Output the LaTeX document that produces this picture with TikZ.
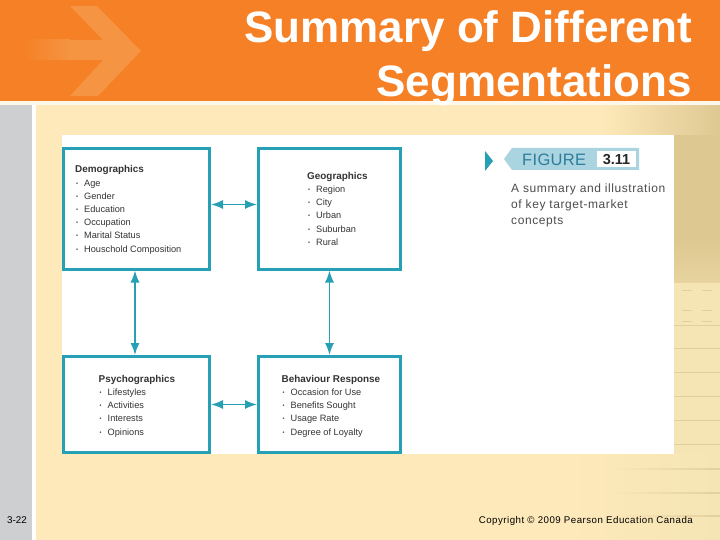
\documentclass[tikz,border=0pt]{standalone}
\usepackage{fontspec}
\setmainfont{Liberation Sans}
\usetikzlibrary{arrows.meta,positioning}
\definecolor{slideorange}{RGB}{245,128,37}
\definecolor{arrowtint}{RGB}{245,148,66}
\definecolor{slidecream}{RGB}{254,233,186}
\definecolor{slidegray}{RGB}{205,207,208}
\definecolor{sidetan}{RGB}{222,200,146}
\definecolor{stripetan}{RGB}{245,229,180}
\definecolor{stripeline}{RGB}{226,208,156}
\definecolor{boxteal}{RGB}{38,160,180}
\definecolor{figblue}{RGB}{170,212,224}
\definecolor{figtext}{RGB}{45,125,155}
\tikzstyle{segbox} = [draw=boxteal,line width=3pt,fill=white,inner sep=0pt]
\tikzstyle{seglink} = [boxteal,line width=1.5pt,{Latex[length=12pt,width=9pt]}-{Latex[length=12pt,width=9pt]}]
\tikzstyle{segtext} = [anchor=north west,align=left,inner sep=0pt,text=black!80,font=\fontsize{9.2}{13.2}\selectfont]
\newcommand{\seghead}[1]{{\fontsize{9.9}{13.2}\selectfont\bfseries #1}\\}
\newcommand{\segitem}[1]{\makebox[9pt][l]{\hspace{1pt}\raisebox{1pt}{\fontsize{5.5}{5}\selectfont\textbullet}}#1}

\begin{document}
\begin{tikzpicture}[x=1pt,y=-1pt]
\useasboundingbox (0,0) rectangle (720,540);

% Slide background
\fill[white] (0,0) rectangle (720,540);
\fill[slidegray] (0,105) rectangle (32,540);
\fill[slidecream] (36,105) rectangle (720,540);
\shade[left color=slidecream,right color=sidetan] (600,105) rectangle (720,135);
\fill[sidetan] (674,135) rectangle (720,283);
\shade[top color=sidetan,bottom color=sidetan!60!stripetan] (674,240) rectangle (720,283);
\fill[stripetan] (674,283) rectangle (720,454);
\shade[left color=slidecream,right color=stripetan] (560,454) rectangle (720,540);

% Stripes on the right
\foreach \y in {325,348,372,396,420,444}
  \draw[stripeline] (674,\y) -- (720,\y);
\foreach \y in {468,492,515}
  \shade[left color=slidecream,right color=stripeline] (600,\y) rectangle (720,\y+1);
\foreach \y in {290,310,321}
  \foreach \x in {682,702}
    \draw[stripeline] (\x,\y) -- (\x+10,\y);

% Title band
\fill[white!70!slidecream] (0,100) rectangle (720,105);
\fill[slideorange] (0,0) rectangle (720,101);
\shade[left color=slideorange,right color=arrowtint] (22,40) rectangle (70,60);
\fill[arrowtint] (70,40) -- (103,40) -- (70,6) -- (97,6) -- (141,51) -- (98,96)
  -- (70,96) -- (103,60) -- (70,60) -- cycle;
\node[white,anchor=north east,align=right,inner sep=0pt,font=\fontsize{44}{54}\selectfont\bfseries]
  (title) at (692,10) {Summary of Different\\Segmentations};

% White figure
\fill[white] (62,135) rectangle (674,454);

% Boxes
\node[segbox,minimum width=146pt,minimum height=120pt] (demo) at (136.5,209) {};
\node[segbox,minimum width=142pt,minimum height=120pt] (geo) at (329.5,209) {};
\node[segbox,minimum width=146pt,minimum height=96pt] (psycho) at (136.5,404.5) {};
\node[segbox,minimum width=142pt,minimum height=96pt] (behav) at (329.5,404.5) {};

% Box texts
\node[segtext] (demotext) at (75,165.5) {\seghead{Demographics}
  \segitem{Age}\\\segitem{Gender}\\\segitem{Education}\\\segitem{Occupation}\\
  \segitem{Marital Status}\\\segitem{Houschold Composition}};
\node[segtext] (geotext) at (307,172) {\seghead{Geographics}
  \segitem{Region}\\\segitem{City}\\\segitem{Urban}\\\segitem{Suburban}\\\segitem{Rural}};
\node[segtext] (psychotext) at (98.5,375) {\seghead{Psychographics}
  \segitem{Lifestyles}\\\segitem{Activities}\\\segitem{Interests}\\\segitem{Opinions}};
\node[segtext] (behavtext) at (281.5,375) {\seghead{Behaviour Response}
  \segitem{Occasion for Use}\\\segitem{Benefits Sought}\\\segitem{Usage Rate}\\\segitem{Degree of Loyalty}};

% Connectors
\draw[seglink] ([yshift=4.5pt]demo.east) -- ([yshift=4.5pt]geo.west);
\draw[seglink] (psycho.east) -- (behav.west);
\draw[seglink] ([xshift=-1.5pt]demo.south) -- ([xshift=-1.5pt]psycho.north);
\draw[seglink] (geo.south) -- (behav.north);

% Figure tag
\fill[boxteal] (485,151) -- (493,161) -- (485,171) -- cycle;
\fill[figblue] (504,159) -- (512,148) -- (639,148) -- (639,170) -- (512,170) -- cycle;
\node[fill=white,minimum width=39pt,minimum height=16pt,inner sep=0pt,font=\fontsize{14.5}{16}\selectfont\bfseries,text=black!85]
  (fignum) at (616.5,159.5) {3.11};
\node[figtext,anchor=west,inner sep=0pt,font=\addfontfeatures{LetterSpace=2}\fontsize{16.5}{18}\selectfont]
  (figlabel) at (522,159.5) {FIGURE};
\node[anchor=north west,align=left,inner sep=0pt,text=black!70,font=\addfontfeatures{LetterSpace=4.8}\fontsize{12}{15.8}\selectfont]
  (figcaption) at (511,184) {A summary and illustration\\of key target-market\\concepts};

% Footer
\node[anchor=west,inner sep=0pt,font=\fontsize{9.8}{10}\selectfont] (pagenum) at (7,520.5) {3-22};
\node[anchor=east,inner sep=0pt,font=\addfontfeatures{LetterSpace=5}\fontsize{9.7}{11}\selectfont]
  (copyright) at (693,520.5) {Copyright © 2009 Pearson Education Canada};
\end{tikzpicture}
\end{document}
